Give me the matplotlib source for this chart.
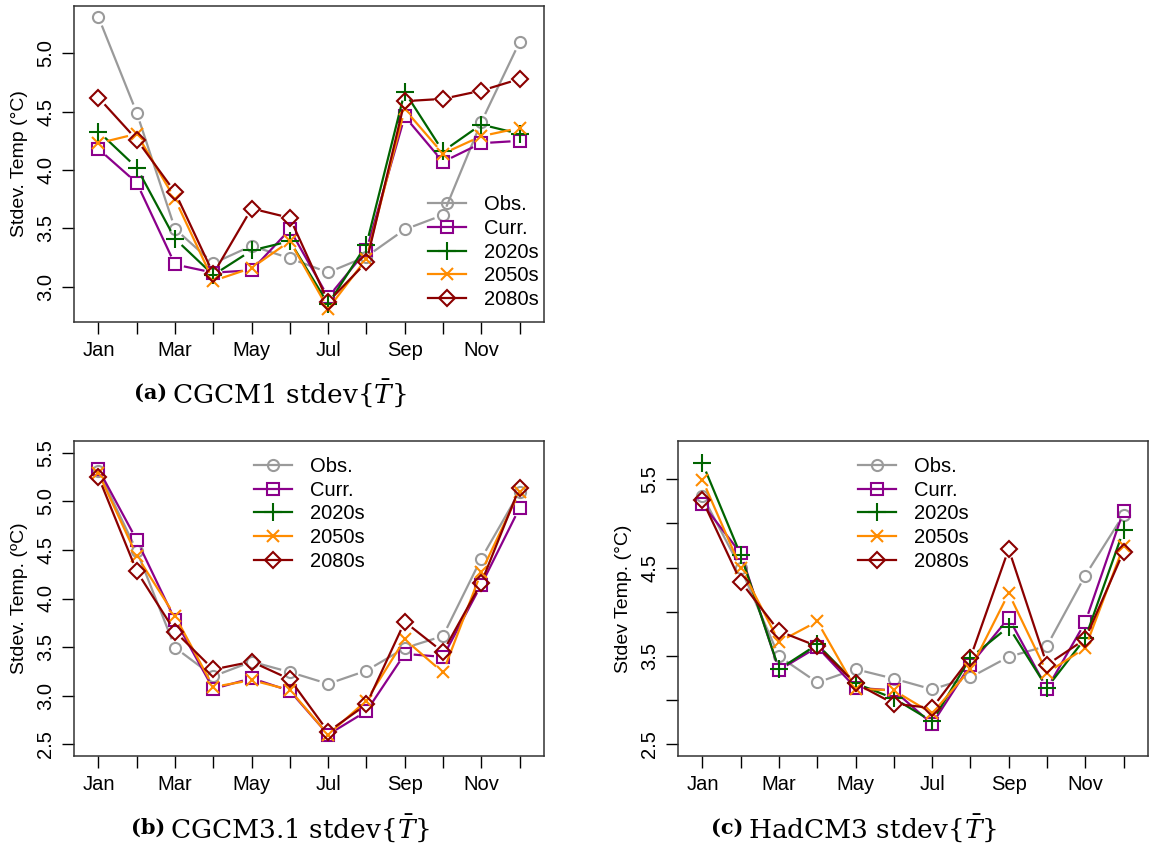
import numpy as np
import matplotlib
matplotlib.use("Agg")
import matplotlib.pyplot as plt
from matplotlib.lines import Line2D

plt.rcParams["font.family"] = ["Liberation Sans", "DejaVu Sans"]
plt.rcParams["mathtext.fontset"] = "dejavuserif"

months = np.arange(1, 13)
month_labels = ["Jan", "", "Mar", "", "May", "", "Jul", "", "Sep", "", "Nov", ""]
series_names = ["Obs.", "Curr.", "2020s", "2050s", "2080s"]

# observed monthly stdev, shared by all three panels
obs = [5.31, 4.49, 3.495, 3.20, 3.35, 3.243, 3.122, 3.258, 3.49, 3.614, 4.41, 5.096]

# CGCM1
cgcm1_curr = [4.18, 3.89, 3.19, 3.12, 3.14, 3.49, 2.91, 3.31, 4.46, 4.07, 4.23, 4.25]
cgcm1_2020 = [4.33, 4.02, 3.41, 3.10, 3.31, 3.39, 2.85, 3.36, 4.67, 4.16, 4.39, 4.31]
cgcm1_2050 = [4.23, 4.31, 3.75, 3.05, 3.16, 3.39, 2.81, 3.24, 4.52, 4.14, 4.29, 4.36]
cgcm1_2080 = [4.62, 4.26, 3.81, 3.11, 3.67, 3.59, 2.87, 3.21, 4.59, 4.61, 4.68, 4.78]

# CGCM3.1 (no 2020s run)
cgcm3_curr = [5.33, 4.60, 3.78, 3.07, 3.18, 3.05, 2.60, 2.84, 3.43, 3.40, 4.14, 4.93]
cgcm3_2020 = [np.nan] * 12
cgcm3_2050 = [5.29, 4.44, 3.82, 3.09, 3.16, 3.06, 2.60, 2.95, 3.58, 3.24, 4.27, 5.10]
cgcm3_2080 = [5.25, 4.28, 3.66, 3.27, 3.35, 3.17, 2.63, 2.91, 3.76, 3.45, 4.16, 5.14]

# HadCM3
had_curr = [5.22, 4.66, 3.34, 3.60, 3.14, 3.11, 2.73, 3.40, 3.93, 3.13, 3.88, 5.14]
had_2020 = [5.68, 4.64, 3.35, 3.63, 3.19, 3.02, 2.76, 3.48, 3.83, 3.14, 3.70, 4.92]
had_2050 = [5.49, 4.50, 3.66, 3.89, 3.13, 3.11, 2.85, 3.35, 4.21, 3.31, 3.59, 4.74]
had_2080 = [5.26, 4.34, 3.78, 3.61, 3.19, 2.96, 2.91, 3.48, 4.71, 3.40, 3.69, 4.68]

colors = ["#9a9a9a", "#8b008b", "#006400", "#ff8c00", "#8b0000"]
markers = ["o", "s", "+", "x", "D"]
msizes = [8, 8, 13, 9, 8]
LW = 1.6

W, H = 1149, 846
fig = plt.figure(figsize=(W / 100, H / 100), dpi=100)


def rect(x0, y0, x1, y1):
    return [x0 / W, 1 - y1 / H, (x1 - x0) / W, (y1 - y0) / H]


def gapped_line(ax, x, y, color, gap=9):
    # R-style type="b": segments stop short of each point
    pts = ax.transData.transform(np.column_stack([x, y]))
    inv = ax.transData.inverted()
    for p0, p1 in zip(pts[:-1], pts[1:]):
        if np.isnan(p0).any() or np.isnan(p1).any():
            continue
        d = p1 - p0
        L = np.hypot(*d)
        if L <= 2 * gap:
            continue
        u = d / L
        seg = inv.transform([p0 + u * gap, p1 - u * gap])
        ax.plot(seg[:, 0], seg[:, 1], color=color, lw=LW, solid_capstyle="butt")


def panel(r, data, ylim, ylabel, yticks, ylabels, leg_xy):
    ax = fig.add_axes(r)
    ax.set_xlim(0.36, 12.64)
    ax.set_ylim(*ylim)
    handles = []
    for vals, c, m, ms, name in zip(data, colors, markers, msizes, series_names):
        gapped_line(ax, months, vals, c)
        ax.plot(months, vals, ls="none", color=c, marker=m, ms=ms, mew=1.5,
                mfc="none")
        handles.append(Line2D([], [], color=c, lw=LW, marker=m, ms=ms, mew=1.5,
                              mfc="none", label=name))
    ax.set_xticks(months)
    ax.set_xticklabels(month_labels, fontsize=14.5)
    ax.set_yticks(yticks)
    ax.set_yticklabels(ylabels, fontsize=14.5, rotation=90, va="center")
    ax.tick_params(length=8.5, width=1, pad=5, direction="out",
                   top=False, right=False)
    ax.set_ylabel(ylabel, fontsize=14, labelpad=6)
    for s in ax.spines.values():
        s.set_linewidth(1.1)
        s.set_color("#333333")
    ax.legend(handles=handles, loc="upper left", bbox_to_anchor=leg_xy,
              frameon=False, fontsize=14.5, handlelength=1.9, handletextpad=0.9,
              labelspacing=0.24, borderpad=0, borderaxespad=0, numpoints=1)
    return ax


panel(rect(74, 6, 544, 322), [obs, cgcm1_curr, cgcm1_2020, cgcm1_2050, cgcm1_2080],
      (2.697, 5.406), "Stdev. Temp (°C)",
      [3.0, 3.5, 4.0, 4.5, 5.0], ["3.0", "3.5", "4.0", "4.5", "5.0"], (0.753, 0.402))

panel(rect(74, 441, 544, 756), [obs, cgcm3_curr, cgcm3_2020, cgcm3_2050, cgcm3_2080],
      (2.38, 5.62), "Stdev. Temp. (ºC)",
      [2.5, 3.0, 3.5, 4.0, 4.5, 5.0, 5.5],
      ["2.5", "3.0", "3.5", "4.0", "4.5", "5.0", "5.5"], (0.382, 0.950))

panel(rect(678, 441, 1148, 756), [obs, had_curr, had_2020, had_2050, had_2080],
      (2.368, 5.932), "Stdev Temp. (°C)",
      [2.5, 3.0, 3.5, 4.0, 4.5, 5.0, 5.5],
      ["2.5", "", "3.5", "", "4.5", "", "5.5"], (0.383, 0.950))

# sub-captions
captions = [("(a)", "CGCM1 stdev$\\{\\bar{T}\\}$", 172, 393),
            ("(b)", "CGCM3.1 stdev$\\{\\bar{T}\\}$", 170, 828),
            ("(c)", "HadCM3 stdev$\\{\\bar{T}\\}$", 748, 828)]
for tag, txt, x, y in captions:
    fig.text((x - 5) / W, 1 - y / H, tag, ha="right", va="center",
             fontsize=15, fontweight="bold", family="DejaVu Serif")
    fig.text(x / W, 1 - y / H, txt, ha="left", va="center",
             fontsize=19, family="DejaVu Serif")

fig.savefig("out.png", dpi=100)
